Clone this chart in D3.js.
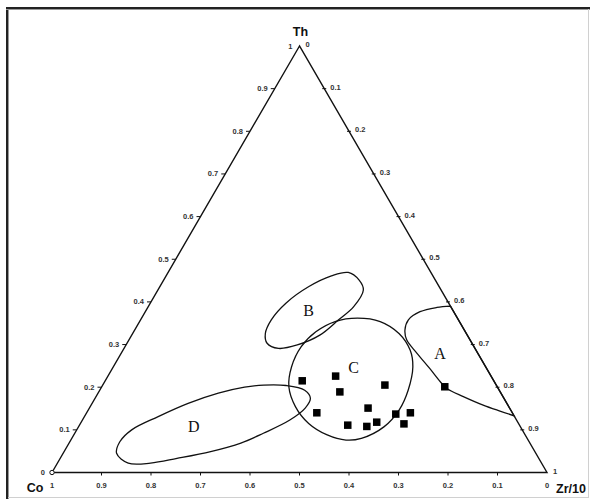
<!DOCTYPE html>
<html>
<head>
<meta charset="utf-8">
<script src="https://cdn.jsdelivr.net/npm/d3@7"></script>
<style>
  html, body { margin: 0; padding: 0; background: #fff; }
  svg { display: block; }
</style>
</head>
<body>
<svg id="chart" width="590" height="499"></svg>
<script>
// Ternary Th – Co – Zr/10 discrimination diagram.
// Every composition is stored as [Th, Zr/10] fractions; Co = 1 - Th - Zr/10.

const vertexNames = { top: "Th", left: "Co", right: "Zr/10" };
const tickValues = [0, 0.1, 0.2, 0.3, 0.4, 0.5, 0.6, 0.7, 0.8, 0.9, 1];
const tickLabels = ["0", "0.1", "0.2", "0.3", "0.4", "0.5", "0.6", "0.7", "0.8", "0.9", "1"];

// Sample compositions [Th, Zr/10]
const samples = [
  [0.215, 0.398], [0.226, 0.460], [0.189, 0.487], [0.205, 0.570],
  [0.140, 0.465], [0.151, 0.563], [0.111, 0.542], [0.108, 0.582],
  [0.118, 0.597], [0.137, 0.626], [0.140, 0.654], [0.114, 0.654],
  [0.201, 0.693]
];

// Field outlines [Th, Zr/10]
const fieldA = [
  [0.390, 0.610], [0.387, 0.584], [0.377, 0.555], [0.358, 0.541], [0.334, 0.546],
  [0.311, 0.561], [0.280, 0.597], [0.244, 0.641], [0.208, 0.684], [0.197, 0.699],
  [0.178, 0.742], [0.158, 0.792], [0.144, 0.833], [0.133, 0.867]
];
const fieldB = [
  [0.469, 0.364], [0.451, 0.395], [0.428, 0.415], [0.389, 0.415], [0.358, 0.400],
  [0.322, 0.380], [0.299, 0.346], [0.291, 0.312], [0.303, 0.283], [0.326, 0.268],
  [0.358, 0.264], [0.397, 0.274], [0.436, 0.301], [0.461, 0.334]
];
const fieldC = [
  [0.354, 0.395], [0.362, 0.436], [0.354, 0.486], [0.326, 0.538], [0.287, 0.580],
  [0.248, 0.605], [0.193, 0.623], [0.147, 0.628], [0.107, 0.617], [0.080, 0.585],
  [0.076, 0.556], [0.088, 0.512], [0.115, 0.461], [0.154, 0.415], [0.201, 0.378],
  [0.248, 0.360], [0.295, 0.356], [0.330, 0.368]
];
const fieldD = [
  [0.205, 0.325], [0.204, 0.371], [0.193, 0.414], [0.174, 0.435], [0.151, 0.436],
  [0.123, 0.419], [0.092, 0.381], [0.069, 0.347], [0.049, 0.296], [0.033, 0.236],
  [0.022, 0.188], [0.022, 0.143], [0.045, 0.108], [0.072, 0.101], [0.100, 0.111],
  [0.131, 0.149], [0.162, 0.194], [0.186, 0.243], [0.200, 0.289]
];
const fieldNames = ["A", "B", "C", "D"];
const fieldLabelPos = [[0.280, 0.644], [0.381, 0.328], [0.247, 0.486], [0.107, 0.233]];

const svg = d3.select("#chart");

// Scales: horizontal barycentric position and Th height
const x = d3.scaleLinear().domain([0, 1]).range([52, 547]);
const y = d3.scaleLinear().domain([0, 1]).range([472.5, 46]);
const px = d => x(d[1] + d[0] / 2);
const py = d => y(d[0]);

// Frame
svg.append("line").attr("x1", 6).attr("x2", 590).attr("y1", 8).attr("y2", 8)
  .attr("stroke", "#222").attr("stroke-width", 2);
svg.append("line").attr("x1", 7).attr("x2", 7).attr("y1", 7).attr("y2", 499)
  .attr("stroke", "#222").attr("stroke-width", 2);
svg.append("line").attr("x1", 6).attr("x2", 590).attr("y1", 9.5).attr("y2", 9.5)
  .attr("stroke", "#999").attr("stroke-width", 1);
svg.append("line").attr("x1", 8.5).attr("x2", 8.5).attr("y1", 9).attr("y2", 499)
  .attr("stroke", "#999").attr("stroke-width", 1);
svg.append("line").attr("x1", 588.5).attr("x2", 588.5).attr("y1", 9).attr("y2", 498)
  .attr("stroke", "#d0d0d0").attr("stroke-width", 1);
svg.append("line").attr("x1", 8).attr("x2", 589).attr("y1", 497.5).attr("y2", 497.5)
  .attr("stroke", "#d0d0d0").attr("stroke-width", 1);

// Triangle
const corners = [[1, 0], [0, 0], [0, 1]];
svg.append("path")
  .attr("d", d3.line().x(px).y(py)(corners) + "Z")
  .attr("fill", "none").attr("stroke", "#111").attr("stroke-width", 1.4)
  .attr("stroke-linejoin", "miter");
svg.append("circle").attr("cx", px([0, 0])).attr("cy", py([0, 0])).attr("r", 2.2)
  .attr("fill", "#fff").attr("stroke", "#111").attr("stroke-width", 1);

// Axis ticks and labels
const tickStyle = sel => sel.attr("font-family", "Arial, 'Liberation Sans', sans-serif")
  .attr("font-size", "7.5px").attr("font-weight", "bold").attr("fill", "#333");
const axes = svg.append("g");

// Left edge: Th fraction
tickValues.forEach((v, i) => {
  const p = [v, 0];
  if (v > 0 && v < 1) {
    axes.append("line").attr("x1", px(p) - 4).attr("x2", px(p)).attr("y1", py(p)).attr("y2", py(p))
      .attr("stroke", "#111").attr("stroke-width", 1);
  }
  axes.append("text").attr("x", px(p) - 7).attr("y", py(p) + 2.5)
    .attr("text-anchor", "end").text(tickLabels[i]).call(tickStyle);
});

// Right edge: Zr/10 fraction
tickValues.forEach((v, i) => {
  const p = [1 - v, v];
  if (v > 0 && v < 1) {
    axes.append("line").attr("x1", px(p) - 2).attr("x2", px(p) + 2).attr("y1", py(p)).attr("y2", py(p))
      .attr("stroke", "#111").attr("stroke-width", 1);
  }
  axes.append("text").attr("x", px(p) + 6).attr("y", py(p) + 1)
    .attr("text-anchor", "start").text(tickLabels[i]).call(tickStyle);
});

// Bottom edge: Co fraction
tickValues.forEach((v, i) => {
  const p = [0, 1 - v];
  if (v > 0 && v < 1) {
    axes.append("line").attr("x1", px(p)).attr("x2", px(p)).attr("y1", py(p)).attr("y2", py(p) + 3)
      .attr("stroke", "#111").attr("stroke-width", 1);
  }
  axes.append("text").attr("x", px(p)).attr("y", py(p) + 15)
    .attr("text-anchor", "middle").text(tickLabels[i]).call(tickStyle);
});

// Vertex names
const nameStyle = sel => sel.attr("font-family", "Arial, 'Liberation Sans', sans-serif")
  .attr("font-weight", "bold").attr("font-size", "12.5px").attr("fill", "#111");
svg.append("text").attr("x", px([1, 0]) + 1).attr("y", py([1, 0]) - 10)
  .attr("text-anchor", "middle").text(vertexNames.top).call(nameStyle);
svg.append("text").attr("x", px([0, 0]) - 17).attr("y", py([0, 0]) + 19)
  .attr("text-anchor", "middle").text(vertexNames.left).call(nameStyle);
svg.append("text").attr("x", px([0, 1]) + 9).attr("y", py([0, 1]) + 20)
  .attr("text-anchor", "start").text(vertexNames.right).call(nameStyle);

// Fields
const outlineStyle = sel => sel.attr("fill", "none").attr("stroke", "#111").attr("stroke-width", 1.3);
const closed = d3.line().x(px).y(py).curve(d3.curveCatmullRomClosed.alpha(0.5));
const open = d3.line().x(px).y(py).curve(d3.curveCatmullRom.alpha(0.5));
const fields = svg.append("g");
[fieldB, fieldC, fieldD].forEach(f => {
  fields.append("path").attr("d", closed(f)).call(outlineStyle);
});
// Field A is closed along the Th–Zr/10 edge
fields.append("path").attr("d", open(fieldA) + "Z").call(outlineStyle);

// Field labels
fieldNames.forEach((n, i) => {
  svg.append("text").attr("x", px(fieldLabelPos[i])).attr("y", py(fieldLabelPos[i]))
    .attr("text-anchor", "middle").attr("dominant-baseline", "central")
    .attr("font-family", "'Liberation Serif', 'Times New Roman', serif")
    .attr("font-size", "16px").attr("fill", "#111").text(n);
});

// Samples
const size = 7.5;
svg.append("g").selectAll("rect").data(samples).join("rect")
  .attr("x", d => px(d) - size / 2).attr("y", d => py(d) - size / 2)
  .attr("width", size).attr("height", size).attr("fill", "#000");
</script>
</body>
</html>
